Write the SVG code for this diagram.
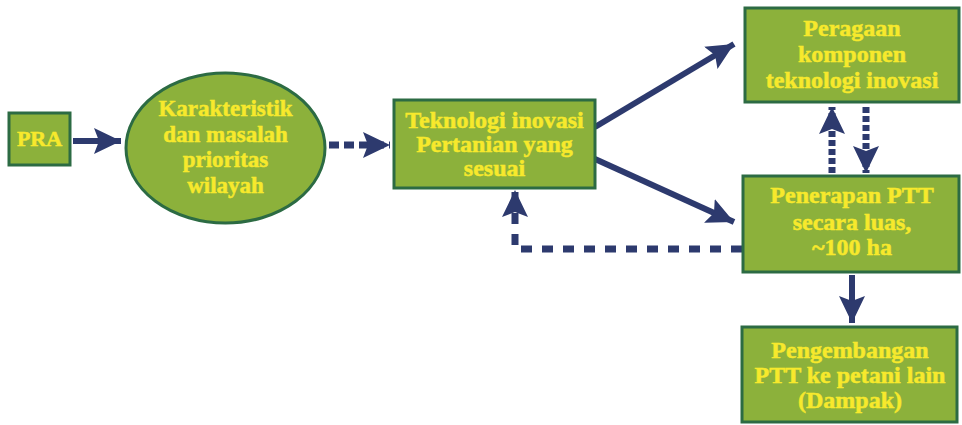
<svg xmlns="http://www.w3.org/2000/svg" width="962" height="425" viewBox="0 0 962 425">
  <defs>
    <style>
      .node { fill: #8cb13b; stroke: #2c6b43; stroke-width: 3; }
      .lbl { font-family: "Liberation Serif", "DejaVu Serif", serif; font-weight: bold; font-size: 24px; fill: #f7e92c; stroke: #f7e92c; stroke-width: 0.5; text-anchor: middle; }
      .solid { fill: none; stroke: #2d3a6e; stroke-width: 6; }
      .dash { fill: none; stroke: #2d3a6e; stroke-width: 7; }
    </style>
    <marker id="head" markerUnits="userSpaceOnUse" markerWidth="28" markerHeight="26" viewBox="0 0 28 26" refX="27" refY="13" orient="auto">
      <path d="M0,0 L27,13 L0,26 L5,13 Z" fill="#2d3a6e"/>
    </marker>
  </defs>
  <rect width="962" height="425" fill="#ffffff"/>

  <g id="connectors">
    <line class="solid" x1="73" y1="141" x2="121" y2="141" marker-end="url(#head)"/>
    <line class="dash" x1="329" y1="145" x2="390" y2="145" stroke-dasharray="10 5" marker-end="url(#head)"/>
    <line class="solid" x1="595" y1="127" x2="734" y2="44" marker-end="url(#head)"/>
    <line class="solid" x1="595" y1="159" x2="734" y2="222" marker-end="url(#head)"/>
    <line class="dash" x1="832" y1="173" x2="832" y2="107" stroke-dasharray="6 3" marker-end="url(#head)"/>
    <line class="dash" x1="866" y1="107" x2="866" y2="173" stroke-dasharray="6 3" marker-end="url(#head)"/>
    <path class="dash" d="M742,249 H515 V190" stroke-dasharray="11 10" marker-end="url(#head)"/>
    <line class="solid" x1="852" y1="275" x2="852" y2="323" marker-end="url(#head)"/>
  </g>

  <g id="node-pra">
    <rect class="node" x="9" y="113" width="61" height="52"/>
    <text class="lbl" x="39.5" y="146" style="font-size:22px">PRA</text>
  </g>

  <g id="node-karakteristik">
    <ellipse class="node" cx="225.5" cy="148" rx="99.5" ry="75"/>
    <text class="lbl" x="225.5" y="116" style="font-size:23px">Karakteristik</text>
    <text class="lbl" x="225.5" y="142" style="font-size:23px">dan masalah</text>
    <text class="lbl" x="225.5" y="167" style="font-size:23px">prioritas</text>
    <text class="lbl" x="225.5" y="193" style="font-size:23px">wilayah</text>
  </g>

  <g id="node-teknologi">
    <rect class="node" x="394" y="100" width="201" height="88"/>
    <text class="lbl" x="494.5" y="128">Teknologi inovasi</text>
    <text class="lbl" x="494.5" y="152">Pertanian yang</text>
    <text class="lbl" x="494.5" y="176">sesuai</text>
  </g>

  <g id="node-peragaan">
    <rect class="node" x="745" y="8" width="214" height="94"/>
    <text class="lbl" x="852" y="36">Peragaan</text>
    <text class="lbl" x="852" y="62">komponen</text>
    <text class="lbl" x="852" y="88">teknologi inovasi</text>
  </g>

  <g id="node-penerapan">
    <rect class="node" x="743" y="176" width="216" height="96"/>
    <text class="lbl" x="852" y="203">Penerapan PTT</text>
    <text class="lbl" x="852" y="230">secara luas,</text>
    <text class="lbl" x="852" y="255">~100 ha</text>
  </g>

  <g id="node-pengembangan">
    <rect class="node" x="742" y="327" width="215" height="95"/>
    <text class="lbl" x="850" y="358">Pengembangan</text>
    <text class="lbl" x="850" y="383">PTT ke petani lain</text>
    <text class="lbl" x="850" y="408">(Dampak)</text>
  </g>
</svg>
